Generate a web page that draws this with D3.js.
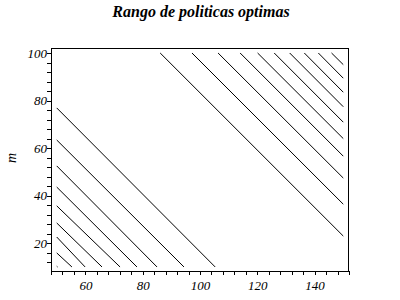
<!DOCTYPE html>
<html><head><meta charset="utf-8">
<script src="https://cdn.jsdelivr.net/npm/d3@7"></script>
<style>
body{margin:0;background:#fff;}
svg{display:block;}
</style></head>
<body>
<svg id="c" width="400" height="300"></svg>
<script>
// Data: contour lines as [x, m] points
const title = "Rango de politicas optimas";
const yLabel = "m";
const xTicks = d3.range(48, 153, 4);
const yTicks = d3.range(12, 101, 4);
const xLabelTicks = [60, 80, 100, 120, 140];
const yLabelTicks = [20, 40, 60, 80, 100];

// lower-left group: start on left edge (x=50, m) -> end on bottom (x, m=10)
const lowerStartM = [76.9, 63.4, 52.5, 43.6, 35.7, 28.5, 22.6, 15.9];
const lowerEndX   = [105.3, 94.4, 85.0, 78.0, 72.1, 65.8, 59.9, 55.3];
// upper-right group: start on top (x, m=100) -> end on right edge (x=150, m)
const upperStartX = [86.1, 97.2, 106.3, 114.0, 120.1, 125.9, 131.3, 136.4, 141.3, 145.9];
const upperEndM   = [23.0, 36.4, 47.4, 56.6, 64.0, 70.9, 77.4, 83.5, 89.4, 95.1];
// tiny contour near the corner
const cornerDot = [[50, 10.3], [50.3, 10.0]];

const svg = d3.select("#c");
const x = d3.scaleLinear().domain([48, 152]).range([51, 349]);
const y = d3.scaleLinear().domain([8.3, 102.1]).range([271, 48]);

const lines = [];
lowerStartM.forEach((m, i) => lines.push([[50, m], [lowerEndX[i], 10]]));
upperStartX.forEach((xv, i) => lines.push([[xv, 100], [150, upperEndM[i]]]));
lines.push(cornerDot);

const line = d3.line().x(d => x(d[0])).y(d => y(d[1]));
svg.append("g").selectAll("path").data(lines).join("path")
  .attr("d", line).attr("fill", "none").attr("stroke", "#000")
  .attr("stroke-width", 1);

// frame
svg.append("rect").attr("x", 51.5).attr("y", 48.5)
  .attr("width", 297).attr("height", 222.5)
  .attr("fill", "none").attr("stroke", "#000").attr("shape-rendering", "crispEdges");

const fontFam = "'Liberation Serif','Times New Roman',serif";
const xAxis = d3.axisBottom(x).tickValues(xTicks).tickSize(4).tickSizeOuter(0)
  .tickFormat(d => xLabelTicks.includes(d) ? d : "");
const gx = svg.append("g").attr("transform", "translate(0,271)").call(xAxis);
gx.select(".domain").remove();
gx.selectAll("line").attr("shape-rendering", "crispEdges");
gx.selectAll("text").attr("font-family", fontFam).attr("font-style", "italic")
  .attr("font-size", 13).attr("fill", "#000").attr("dy", "0.9em");

const yAxis = d3.axisLeft(y).tickValues(yTicks).tickSize(4).tickSizeOuter(0)
  .tickFormat(d => yLabelTicks.includes(d) ? d : "");
const gy = svg.append("g").attr("transform", "translate(51,0)").call(yAxis);
gy.select(".domain").remove();
gy.selectAll("line").attr("shape-rendering", "crispEdges");
gy.selectAll("text").attr("font-family", fontFam).attr("font-style", "italic")
  .attr("font-size", 13).attr("fill", "#000").attr("x", -4);

svg.append("text").attr("x", 201).attr("y", 17).attr("text-anchor", "middle")
  .attr("font-family", fontFam).attr("font-weight", "bold").attr("font-style", "italic")
  .attr("font-size", 16).text(title);

svg.append("text").attr("transform", "translate(16,158) rotate(-90)")
  .attr("text-anchor", "middle").attr("font-family", fontFam).attr("font-style", "italic")
  .attr("font-size", 14).text(yLabel);
</script>
</body></html>
